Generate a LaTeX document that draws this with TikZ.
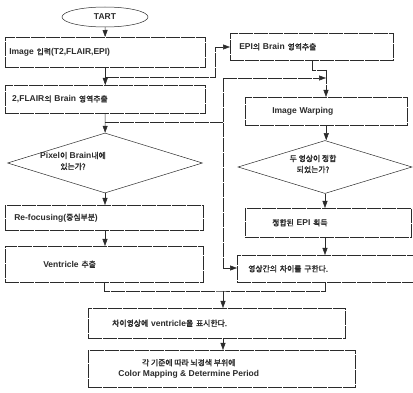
\documentclass[tikz,border=0pt]{standalone}
\usepackage{fontspec}
\setmainfont{Liberation Sans}
\newfontfamily\kr{Noto Sans CJK KR}[Scale=0.92, AutoFakeBold=2]
\usepackage{xcolor}
\usepackage{tikz}
\usetikzlibrary{positioning, arrows.meta, shapes.geometric}
\definecolor{scanink}{HTML}{2B2B2B}

\begin{document}
\begin{tikzpicture}[x=1pt, y=-1pt, line width=0.5pt, draw=scanink,
    lbl/.style={font=\bfseries\fontsize{8.5}{11}\selectfont, text=scanink},
    flowbox/.style={lbl, draw, rectangle, anchor=north west, align=left,
      inner ysep=0pt, dash pattern=on 14pt off 1pt},
    decide/.style={draw, diamond, inner sep=0pt},
    wire/.style={dash pattern=on 14pt off 1pt},
    arr/.style={wire, -{Triangle[length=7pt, width=5pt]}}]
  \useasboundingbox (0,0) rectangle (413,393);

  \node[draw, ellipse, lbl, minimum width=86, minimum height=20, inner sep=0pt]
    (start) at (105,17) {TART};

  % left column
  \node[flowbox, minimum height=30, inner xsep=4, text width=192]
    (input) at (5,37) {Image {\kr 입력}(T2,FLAIR,EPI)};
  \node[flowbox, minimum height=28, inner xsep=7, text width=186]
    (extract) at (5,85) {2,FLAIR{\kr 의} Brain {\kr 영역추출}};
  \node[decide, minimum width=195, minimum height=60,
        label={[lbl, align=center, xshift=-32pt, yshift=2pt]center:Pixel{\kr 이} Brain{\kr 내에}\\{\kr 있는가?}}]
    (check) at (105,163) {};
  \node[flowbox, minimum height=25, inner xsep=9, text width=180]
    (refocus) at (5,205) {Re-focusing({\kr 중심부분})};
  \node[flowbox, minimum height=36, inner xsep=38, text width=122]
    (vent) at (5,246) {Ventricle {\kr 추출}};

  % right column
  \node[flowbox, minimum height=27, inner xsep=9, text width=145]
    (epi) at (230,33) {EPI{\kr 의} Brain {\kr 영역추출}};
  \node[flowbox, minimum height=28, inner xsep=27, text width=108]
    (warp) at (245,97) {Image Warping};
  \node[decide, minimum width=174, minimum height=53,
        label={[lbl, align=center, xshift=-12pt, yshift=3pt]center:{\kr 두 영상이 정합}\\{\kr 되었는가?}}]
    (match) at (325,167) {};
  \node[flowbox, minimum height=29, inner xsep=27, text width=112]
    (got) at (245,208) {{\kr 정합된} EPI {\kr 획득}};
  \node[flowbox, minimum height=27, inner xsep=11, text width=154]
    (diff) at (237,255) {{\kr 영상간의 차이를 구한다.}};

  % bottom
  \node[flowbox, minimum height=30, inner xsep=24, text width=209]
    (mark) at (88,308) {{\kr 차이영상에} ventricle{\kr 을 표시한다.}};
  \node[flowbox, minimum height=37, minimum width=267,
        label={[lbl, align=center, xshift=-33pt]center:{\kr 각 기준에 따라 뇌경색 부위에}\\Color Mapping \& Determine Period}]
    (color) at (88,350) {};

  \coordinate (j1) at (105,77);
  \coordinate (b1) at (215,47);
  \coordinate (j2) at (105,122);
  \coordinate (b2) at (223,78);
  \coordinate (b3) at (223,268);
  \coordinate (e1) at (326,70);
  \coordinate (j3) at (326,78);
  \coordinate (m) at (223,291);

  \draw[arr] (start) -- (input);
  \draw[arr] (input) -- (extract);
  \draw[wire] (j1) -| (b1);
  \draw[arr] (b1) -- (b1 -| epi.west);
  \draw[arr] (extract) -- (check);
  \draw[wire] (j2) -- (j2 -| b2);
  \draw[wire] (b2) -- (b3);
  \draw[arr] (b2) -- (j3);
  \draw[arr] (b3) -- (b3 -| diff.west);
  \draw[arr] (check.south) -- (check.south |- refocus.north);
  \draw[arr] (refocus.south -| check.south) -- (vent.north -| check.south);

  \draw[wire] (epi.south) |- (e1);
  \draw[arr] (e1) -- (warp.north -| e1);
  \draw[arr] (warp.south) -- (warp.south |- match.north);
  \draw[arr] (match.south) -- (match.south |- got.north);
  \draw[arr] (got.south -| match.south) -- (diff.north -| match.south);

  \draw[wire] (vent.south) |- (m) -| (diff.south -| match.south);
  \draw[arr] (m) -- (m |- mark.north);
  \draw[arr] (mark.south -| m) -- (color.north -| m);
\end{tikzpicture}
\end{document}
